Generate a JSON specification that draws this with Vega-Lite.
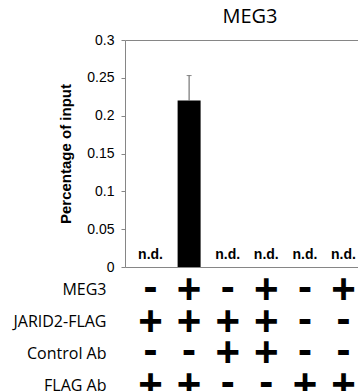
{
  "$schema": "https://vega.github.io/schema/vega-lite/v6.json",
  "padding": {"left": 12, "top": 6, "right": 0, "bottom": 0},
  "bounds": "flush",
  "spacing": 0,
  "background": "white",
  "config": {
    "view": {"stroke": null},
    "font": "Liberation Sans",
    "axisQuantitative": {
      "labelFont": "Liberation Sans", "labelFontSize": 14, "labelColor": "black", "labelPadding": 7, "labelOverlap": false, "labelFlush": false,
      "tickColor": "#868686", "tickSize": 4, "domain": false, "grid": false, "tickCount": 6, "format": "~g",
      "titleFont": "Liberation Sans", "titleFontSize": 15, "titleFontWeight": "bold", "titleColor": "black", "titlePadding": 13
    }
  },
  "datasets": {
    "bars": [
      {"c": 1, "value": 0, "upper": null, "label": "n.d."},
      {"c": 2, "value": 0.22, "upper": 0.253, "label": ""},
      {"c": 3, "value": 0, "upper": null, "label": "n.d."},
      {"c": 4, "value": 0, "upper": null, "label": "n.d."},
      {"c": 5, "value": 0, "upper": null, "label": "n.d."},
      {"c": 6, "value": 0, "upper": null, "label": "n.d."}
    ],
    "table": [
      {"row": "MEG3", "c": 1, "s": "-"},
      {"row": "MEG3", "c": 2, "s": "+"},
      {"row": "MEG3", "c": 3, "s": "-"},
      {"row": "MEG3", "c": 4, "s": "+"},
      {"row": "MEG3", "c": 5, "s": "-"},
      {"row": "MEG3", "c": 6, "s": "+"},
      {"row": "JARID2-FLAG", "c": 1, "s": "+"},
      {"row": "JARID2-FLAG", "c": 2, "s": "+"},
      {"row": "JARID2-FLAG", "c": 3, "s": "+"},
      {"row": "JARID2-FLAG", "c": 4, "s": "+"},
      {"row": "JARID2-FLAG", "c": 5, "s": "-"},
      {"row": "JARID2-FLAG", "c": 6, "s": "-"},
      {"row": "Control Ab", "c": 1, "s": "-"},
      {"row": "Control Ab", "c": 2, "s": "-"},
      {"row": "Control Ab", "c": 3, "s": "+"},
      {"row": "Control Ab", "c": 4, "s": "+"},
      {"row": "Control Ab", "c": 5, "s": "-"},
      {"row": "Control Ab", "c": 6, "s": "-"},
      {"row": "FLAG Ab", "c": 1, "s": "+"},
      {"row": "FLAG Ab", "c": 2, "s": "+"},
      {"row": "FLAG Ab", "c": 3, "s": "-"},
      {"row": "FLAG Ab", "c": 4, "s": "-"},
      {"row": "FLAG Ab", "c": 5, "s": "+"},
      {"row": "FLAG Ab", "c": 6, "s": "+"}
    ]
  },
  "vconcat": [
    {
      "width": 244,
      "height": 227,
      "view": {"stroke": "#868686", "strokeWidth": 1},
      "title": {"text": "MEG3", "font": "Open Sans", "fontSize": 20, "fontWeight": "normal", "color": "black", "frame": "group", "anchor": "middle", "dx": 3, "offset": 6},
      "data": {"name": "bars"},
      "encoding": {
        "x": {"field": "c", "type": "ordinal", "axis": null, "scale": {"type": "band", "paddingInner": 0.404, "paddingOuter": 0.363}}
      },
      "layer": [
        {
          "mark": {"type": "bar", "color": "black"},
          "encoding": {
            "y": {"field": "value", "type": "quantitative", "scale": {"domain": [0, 0.3], "nice": false},
              "axis": {"title": "Percentage of input"}}
          }
        },
        {
          "transform": [{"filter": "datum.upper != null"}],
          "mark": {"type": "rule", "color": "#595959", "strokeWidth": 1},
          "encoding": {
            "y": {"field": "value", "type": "quantitative"},
            "y2": {"field": "upper"}
          }
        },
        {
          "transform": [{"filter": "datum.upper != null"}],
          "mark": {"type": "tick", "color": "#595959", "size": 5, "thickness": 1},
          "encoding": {
            "y": {"field": "upper", "type": "quantitative"}
          }
        },
        {
          "mark": {"type": "text", "font": "Liberation Sans", "fontWeight": "bold", "fontSize": 14, "baseline": "bottom", "dy": -5, "color": "black"},
          "encoding": {
            "y": {"datum": 0, "type": "quantitative"},
            "text": {"field": "label"}
          }
        }
      ]
    },
    {
      "width": 244,
      "height": 141,
      "data": {"name": "table"},
      "encoding": {
        "x": {"field": "c", "type": "ordinal", "axis": null, "scale": {"type": "band", "paddingInner": 0.404, "paddingOuter": 0.363}},
        "y": {"field": "row", "type": "nominal", "sort": ["MEG3", "JARID2-FLAG", "Control Ab", "FLAG Ab"], "scale": {"type": "point", "padding": 0.726},
          "axis": {"title": null, "domain": false, "ticks": false, "labelFont": "Open Sans", "labelFontSize": 16, "labelColor": "black", "labelPadding": 19}},
        "text": {"field": "s"}
      },
      "layer": [
        {
          "transform": [{"filter": "datum.s == '+'"}],
          "mark": {"type": "text", "font": "Liberation Sans", "fontWeight": "bold", "fontSize": 42, "baseline": "middle", "color": "black"}
        },
        {
          "transform": [{"filter": "datum.s == '-'"}],
          "mark": {"type": "text", "font": "Liberation Sans", "fontWeight": "bold", "fontSize": 42, "baseline": "middle", "dy": -2, "color": "black"}
        }
      ]
    }
  ]
}
